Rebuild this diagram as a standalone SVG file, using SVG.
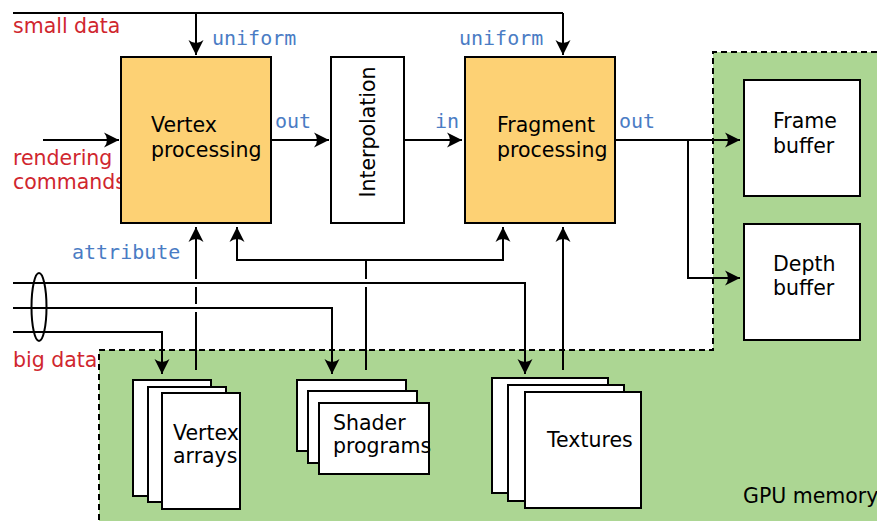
<svg xmlns="http://www.w3.org/2000/svg" width="877" height="521" viewBox="0 0 877 521">
  <defs>
    <marker id="arrow" markerUnits="userSpaceOnUse" markerWidth="20" markerHeight="20" viewBox="-18 -10 20 20" refX="0" refY="0" orient="auto">
      <path d="M0,0 L-15,-7.5 Q-9,0 -15,7.5 Z" fill="#000"/>
    </marker>
  </defs>
  <style>
    .lbl { font-family: "DejaVu Sans", "Liberation Sans", sans-serif; font-size: 20.5px; fill: #000; }
    .red { font-family: "DejaVu Sans", "Liberation Sans", sans-serif; font-size: 20.5px; fill: #d0262e; }
    .code { font-family: "DejaVu Sans Mono", "Liberation Mono", monospace; font-size: 20px; fill: #4a7cc4; }
    .box { fill: #fff; stroke: #000; stroke-width: 2; }
    .stage { fill: #fdd174; stroke: #000; stroke-width: 2; }
    .wire { fill: none; stroke: #000; stroke-width: 2; }
    .arr { fill: none; stroke: #000; stroke-width: 2; marker-end: url(#arrow); }
  </style>

  <rect width="877" height="521" fill="#fff"/>

  <!-- GPU memory region -->
  <g id="gpu-memory">
    <path d="M713,52 H877 V521 H99 V350 H713 Z" fill="#acd693"/>
    <path d="M877,52 H713 V350 H99 V521" fill="none" stroke="#000" stroke-width="2" stroke-dasharray="6,4"/>
    <text class="lbl" x="743" y="503">GPU memory</text>
  </g>

  <!-- connectors -->
  <g id="connectors">
    <!-- small data uniforms -->
    <path class="wire" d="M13,13 H563"/>
    <path class="arr" d="M196,13 V55"/>
    <path class="arr" d="M563,13 V55"/>
    <!-- rendering commands -->
    <path class="arr" d="M43,140 H119"/>
    <!-- pipeline -->
    <path class="arr" d="M271,140 H329"/>
    <path class="arr" d="M404,140 H462"/>
    <path class="wire" d="M615,140 H688"/>
    <path class="arr" d="M688,140 H740"/>
    <path class="arr" d="M688,140 V278 H740"/>
    <!-- big data cables -->
    <g stroke="#fff" stroke-width="6">
      <path d="M30,283 H36 M30,308 H36 M30,332 H36"/>
    </g>
    <ellipse cx="39" cy="307" rx="7.5" ry="34" fill="none" stroke="#000" stroke-width="2"/>
    <path class="wire" d="M13,283 H36 M13,308 H36 M13,332 H36" />
    <path class="arr" d="M13,283 H525 V374"/>
    <path class="arr" d="M13,308 H332 V374"/>
    <path class="arr" d="M13,332 H162 V374"/>
    <!-- attributes up to vertex stage -->
    <path class="wire" d="M196,370 V312 M196,304 V287"/>
    <path class="arr" d="M196,279 V227"/>
    <!-- shader programs to both stages -->
    <path class="wire" d="M366,370 V287 M366,279 V260"/>
    <path class="arr" d="M366,260 H237 V227"/>
    <path class="arr" d="M366,260 H503 V227"/>
    <!-- textures up to fragment stage -->
    <path class="arr" d="M563,370 V227"/>
  </g>

  <!-- labels -->
  <g id="labels">
    <text class="red" x="13" y="33">small data</text>
    <text class="red" x="13" y="165">rendering</text>
    <text class="red" x="13" y="189">commands</text>
    <text class="red" x="13" y="367">big data</text>
    <text class="code" x="212" y="45">uniform</text>
    <text class="code" x="459" y="45">uniform</text>
    <text class="code" x="275" y="128">out</text>
    <text class="code" x="435" y="128">in</text>
    <text class="code" x="619" y="128">out</text>
    <text class="code" x="72" y="259">attribute</text>
  </g>

  <g id="vertex-processing">
    <rect class="stage" x="121" y="57" width="150" height="166"/>
    <text class="lbl" x="151" y="132">Vertex</text>
    <text class="lbl" x="151" y="157">processing</text>
  </g>

  <g id="interpolation">
    <rect class="box" x="331" y="57" width="73" height="166"/>
    <text class="lbl" text-anchor="middle" transform="translate(375,132) rotate(-90)">Interpolation</text>
  </g>

  <g id="fragment-processing">
    <rect class="stage" x="465" y="57" width="150" height="166"/>
    <text class="lbl" x="497" y="132">Fragment</text>
    <text class="lbl" x="497" y="157">processing</text>
  </g>

  <g id="frame-buffer">
    <rect class="box" x="744" y="80" width="116" height="116"/>
    <text class="lbl" x="773" y="128">Frame</text>
    <text class="lbl" x="773" y="153">buffer</text>
  </g>

  <g id="depth-buffer">
    <rect class="box" x="744" y="224" width="116" height="116"/>
    <text class="lbl" x="773" y="271">Depth</text>
    <text class="lbl" x="773" y="295">buffer</text>
  </g>

  <g id="vertex-arrays">
    <rect class="box" x="133" y="380" width="78" height="116"/>
    <rect class="box" x="148" y="387" width="78" height="115"/>
    <rect class="box" x="162" y="393" width="78" height="116"/>
    <text class="lbl" x="173" y="440">Vertex</text>
    <text class="lbl" x="173" y="463">arrays</text>
  </g>

  <g id="shader-programs">
    <rect class="box" x="297" y="380" width="109" height="71"/>
    <rect class="box" x="308" y="391" width="109" height="72"/>
    <rect class="box" x="319" y="403" width="110" height="71"/>
    <text class="lbl" x="333" y="430">Shader</text>
    <text class="lbl" x="333" y="453">programs</text>
  </g>

  <g id="textures">
    <rect class="box" x="492" y="378" width="116" height="115"/>
    <rect class="box" x="508" y="385" width="116" height="116"/>
    <rect class="box" x="525" y="392" width="116" height="116"/>
    <text class="lbl" x="547" y="447">Textures</text>
  </g>
</svg>
